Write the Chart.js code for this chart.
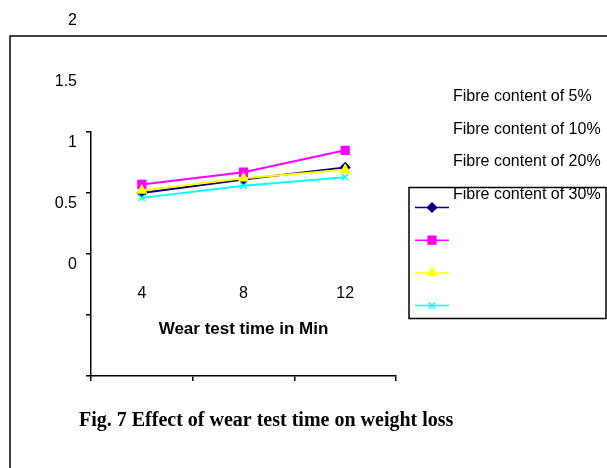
<!DOCTYPE html>
<html>
<head>
<meta charset="utf-8">
<script src="https://cdn.jsdelivr.net/npm/chart.js@4/dist/chart.umd.min.js"></script>
<style>
  body { margin: 0; background: #fff; }
  #chart { display: block; }
</style>
</head>
<body>
<canvas id="chart" width="607" height="468"></canvas>
<script>
// weight loss per wear test time, one series per fibre content
const wearTimes = ['4', '8', '12'];
const fibre5 = [1.50, 1.61, 1.71];
const fibre10 = [1.57, 1.67, 1.85];
const fibre20 = [1.52, 1.62, 1.69];
const fibre30 = [1.46, 1.56, 1.63];
const seriesNames = ['Fibre content of 5%', 'Fibre content of 10%', 'Fibre content of 20%', 'Fibre content of 30%'];
const yTickLabels = ['0', '0.5', '1', '1.5', '2'];
const xTitle = 'Wear test time in Min';
const caption = 'Fig. 7 Effect of wear test time on weight loss';

const sans = "'Liberation Sans', Arial, sans-serif";
const textShift = -111; // all text sits this far above its anchor

// frame, side legend and caption
const extras = {
    id: 'extras',
    beforeDraw(chart) {
        const ctx = chart.ctx;
        ctx.save();
        ctx.fillStyle = '#fff';
        ctx.fillRect(0, 0, chart.width, chart.height);
        ctx.strokeStyle = '#000';
        ctx.lineWidth = 1.5;
        ctx.beginPath();
        ctx.moveTo(10, chart.height);
        ctx.lineTo(10, 36);
        ctx.lineTo(chart.width, 36);
        ctx.stroke();
        ctx.restore();
    },
    afterDraw(chart) {
        const ctx = chart.ctx;
        const area = chart.chartArea;
        const boxX = area.right + 13, boxY = 187.5, boxW = 197, boxH = 131;
        ctx.save();
        ctx.strokeStyle = '#000';
        ctx.lineWidth = 1.5;
        ctx.strokeRect(boxX, boxY, boxW, boxH);

        chart.data.datasets.forEach((ds, i) => {
            const y = boxY + 20 + i * 32.7;
            ctx.strokeStyle = ds.borderColor;
            ctx.lineWidth = 1.5;
            ctx.beginPath();
            ctx.moveTo(boxX + 6, y);
            ctx.lineTo(boxX + 40, y);
            ctx.stroke();
            ctx.fillStyle = ds.pointBackgroundColor;
            ctx.strokeStyle = ds.pointBorderColor;
            ctx.lineWidth = 1.5;
            Chart.helpers.drawPoint(ctx, {
                pointStyle: ds.pointStyle,
                radius: ds.pointRadius,
                rotation: 0,
                borderWidth: 1.5
            }, boxX + 23, y);

            ctx.fillStyle = '#000';
            ctx.font = '16px ' + sans;
            ctx.textAlign = 'left';
            ctx.textBaseline = 'middle';
            ctx.fillText(ds.label, boxX + 44, y + textShift);
        });

        ctx.font = "bold 20px 'Liberation Serif', 'Times New Roman', serif";
        ctx.fillStyle = '#000';
        ctx.textAlign = 'left';
        ctx.textBaseline = 'middle';
        ctx.fillText(caption, 79, 421);
        ctx.restore();
    }
};

const series = [
    { label: seriesNames[0], data: fibre5, color: '#000080', style: 'rectRot', radius: 4.5, order: 4 },
    { label: seriesNames[1], data: fibre10, color: '#ff00ff', style: 'rect', radius: 5.5, order: 3 },
    { label: seriesNames[2], data: fibre20, color: '#ffff00', style: 'triangle', radius: 5, order: 2 },
    { label: seriesNames[3], data: fibre30, color: '#00ffff', style: 'crossRot', radius: 4.5, order: 1 }
];

new Chart(document.getElementById('chart'), {
    type: 'line',
    data: {
        labels: wearTimes,
        datasets: series.map(s => ({
            label: s.label,
            data: s.data,
            borderColor: s.color,
            backgroundColor: s.color,
            pointBackgroundColor: s.color,
            pointBorderColor: s.color,
            pointStyle: s.style,
            pointRadius: s.radius,
            pointBorderWidth: 1.5,
            borderWidth: 2,
            tension: 0,
            order: s.order
        }))
    },
    options: {
        responsive: false,
        animation: false,
        events: [],
        layout: { padding: { left: 0, top: 132, right: 211, bottom: 0 } },
        plugins: {
            legend: { display: false },
            tooltip: { enabled: false }
        },
        scales: {
            x: {
                offset: true,
                grid: { offset: true, drawOnChartArea: false, tickLength: 5, color: '#000', lineWidth: 1.5 },
                border: { color: '#000', width: 1.5 },
                // mirrored labels are not clipped to the axis box and sit above the line
                ticks: { color: '#000', font: { family: sans, size: 16 }, padding: 73, mirror: true, maxRotation: 0 },
                title: {
                    display: true,
                    text: xTitle,
                    color: '#000',
                    font: { family: sans, size: 17, weight: 'bold' },
                    padding: { top: 0, bottom: 128 }
                },
                afterFit(scale) { scale.height = 92; }
            },
            y: {
                min: 0,
                max: 2,
                grid: { drawOnChartArea: false, tickLength: 5, color: '#000', lineWidth: 1.5 },
                border: { color: '#000', width: 1.5 },
                ticks: {
                    stepSize: 0.5,
                    color: '#000',
                    font: { family: sans, size: 16 },
                    padding: 9,
                    labelOffset: textShift,
                    callback: (v, i) => yTickLabels[i]
                },
                afterFit(scale) { scale.width = 91; }
            }
        }
    },
    plugins: [extras]
});
</script>
</body>
</html>
